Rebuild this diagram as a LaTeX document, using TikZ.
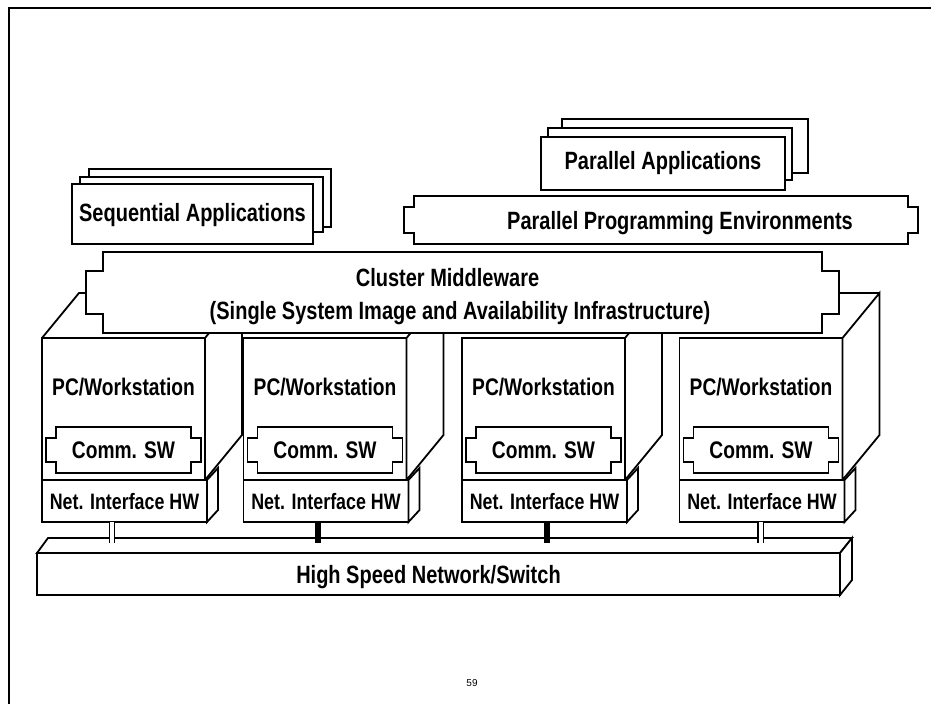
\documentclass[tikz,border=0pt]{standalone}
\usepackage{fontspec}
\newfontfamily\diafont[FakeStretch=0.8]{Liberation Sans}
\newfontfamily\pagefont{Liberation Sans}
\tikzset{
  outline/.style={line width=1.8pt, draw=black, fill=white},
  area/.style={inner sep=0pt, outer sep=0pt},
  lbl/.style={inner sep=0pt, text height=18pt, text depth=0pt,
    font=\diafont\bfseries\fontsize{25}{28}\selectfont},
  wslbl/.style={lbl, text height=17pt, font=\diafont\bfseries\fontsize{24}{27}\selectfont},
  niclbl/.style={lbl, text height=16pt, font=\diafont\bfseries\fontsize{22.3}{25}\selectfont},
  wsfront/.style={area, outline, minimum width=163pt, minimum height=142pt},
  nicbox/.style={area, outline, minimum width=165pt, minimum height=42pt},
  dlink/.style={draw=black, line width=1.3pt, double=white, double distance=4pt},
  blink/.style={draw=black, line width=6pt}
}
% notched outline round an (empty) node: name, notch width, notch inset
\newcommand{\notchbox}[3]{%
  \filldraw[outline] (#1.north west) -- (#1.north east)
    -- ([yshift=-#3pt]#1.north east) -- ++(#2,0)
    |- ([yshift=#3pt]#1.south east) -- (#1.south east)
    -- (#1.south west) -- ([yshift=#3pt]#1.south west) -- ++(-#2,0)
    |- ([yshift=-#3pt]#1.north west) -- cycle;}

\begin{document}
\begin{tikzpicture}[x=1pt, y=-1pt]
\useasboundingbox (0,0) rectangle (931,704);

% page frame
\draw[line width=2.8pt] (9,704) -- (9,8) -- (931,8);

% parallel applications (stack of sheets)
\node[area, minimum width=244pt, minimum height=53pt] (papp) at (663,163.5) {};
\foreach \a/\b/\c/\d in {21/-18/23/-17, 7/-9/7/-10, 0/0/0/0}
  \filldraw[outline] ([shift={(\a,\b)}]papp.north west) rectangle ([shift={(\c,\d)}]papp.south east);
\node[lbl] (papptext) at ([yshift=3pt]papp.center) {Parallel Applications};

% sequential applications (stack of sheets)
\node[area, minimum width=241pt, minimum height=60pt] (seq) at (192.5,214) {};
\foreach \a/\b/\c/\d in {17/-15/18/-17, 8/-7/10/-12, 0/0/0/0}
  \filldraw[outline] ([shift={(\a,\b)}]seq.north west) rectangle ([shift={(\c,\d)}]seq.south east);
\node[lbl] (seqtext) at ([yshift=2pt]seq.center) {Sequential Applications};

% parallel programming environments
\node[area, minimum width=494pt, minimum height=48pt] (ppe) at (661,220) {};
\notchbox{ppe}{10}{11}
\node[lbl] (ppetext) at ([xshift=19pt]ppe.center) {Parallel Programming Environments};

% high speed network
\node[area, outline, minimum width=803pt, minimum height=42pt] (net) at (438.5,574) {};
\filldraw[outline] (net.north west) -- ++(11,-15) -- ([shift={(12,-15)}]net.north east) -- (net.north east) -- cycle;
\filldraw[outline] (net.north east) -- ++(12,-15) -- ([shift={(12,-15)}]net.south east) -- (net.south east) -- cycle;
\node[lbl] (nettext) at ([xshift=-10pt]net.center) {High Speed Network/Switch};
\coordinate (netlink) at ([yshift=10pt]net.north);

% workstations
\foreach \i/\x/\lk/\off in {1/123.5/dlink/70, 2/325/blink/74, 3/543.5/blink/85, 4/761/dlink/81}{
  \node[wsfront] (ws\i) at (\x,409) {};
  \filldraw[outline] (ws\i.north east) -- ++(37,-45) -- ([shift={(37,-45)}]ws\i.south east) -- (ws\i.south east) -- cycle;
  \node[wslbl] (wstext\i) at ([yshift=22pt]ws\i.center) {PC/Workstation};
  % comm. software
  \node[area, minimum width=135pt, minimum height=46pt] (comm\i) at ([yshift=-41pt]ws\i.center) {};
  \notchbox{comm\i}{10}{11}
  \node[wslbl] (commtext\i) at (comm\i) {Comm. SW};
  % network interface
  \node[nicbox, anchor=north west] (nic\i) at (ws\i.south west) {};
  \filldraw[outline] (nic\i.north east) -- ++(11,-12) -- ([shift={(11,-12)}]nic\i.south east) -- (nic\i.south east) -- cycle;
  \node[niclbl] (nictext\i) at (nic\i) {Net. Interface HW};
  \coordinate (lt\i) at ([xshift=\off pt]nic\i.south west);
  \draw[\lk] (lt\i) -- (lt\i |- netlink);
}

% common top of the cluster
\draw[outline, fill=none] (ws1.north west) -- ++(37,-45) -- ([shift={(37,-45)}]ws4.north east);

% cluster middleware
\node[area, minimum width=719pt, minimum height=81pt] (mw) at (462.5,292.5) {};
\notchbox{mw}{17}{19}
\node[lbl] (mwtext1) at (447.5,277) {Cluster Middleware};
\node[lbl] (mwtext2) at (460,310) {(Single System Image and Availability Infrastructure)};

% page number
\node[inner sep=0pt, font=\pagefont\fontsize{10}{12}\selectfont] (pagenum) at (472,683) {59};
\end{tikzpicture}
\end{document}
